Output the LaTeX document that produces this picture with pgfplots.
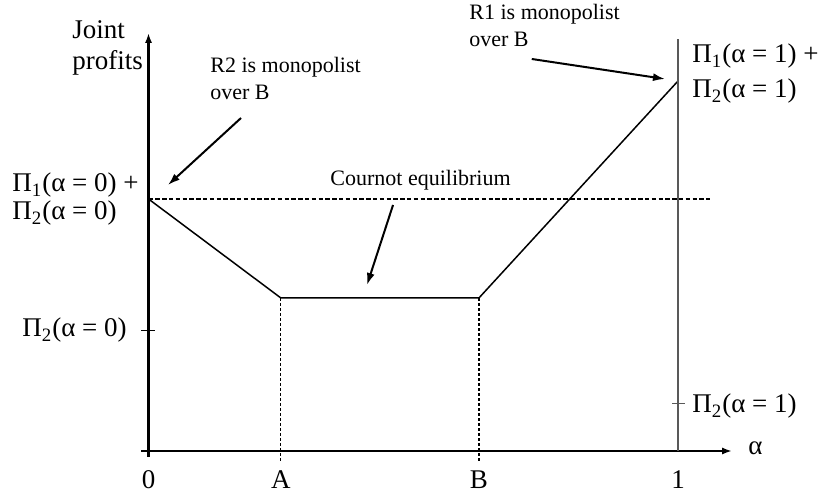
\documentclass[border=0pt]{standalone}
\usepackage{fontspec}
\setmainfont{Liberation Serif}
\usepackage{pgfplots}
\pgfplotsset{compat=1.18}
\usetikzlibrary{arrows.meta}

\tikzset{
  big/.style={font=\fontsize{13.5}{16}\selectfont, inner sep=0pt, anchor=base west},
  small/.style={font=\fontsize{11}{13}\selectfont, inner sep=0pt, anchor=base west},
  note/.style={-{Latex[length=6pt,width=4pt]}, line width=1pt, black},
}

\begin{document}
\begin{tikzpicture}
\begin{axis}[
    scale only axis,
    width=295.5pt, height=212pt,
    xmin=-0.01416, xmax=1.1020,
    ymin=-0.06, ymax=4.18,
    axis lines=middle,
    axis line style={line width=1.3pt, -{Latex[length=5pt,width=3.6pt]}},
    clip=false,
    xtick={0,0.25,0.624,1},
    xticklabels={0,A,B,1},
    xtick style={draw=none},
    ytick=\empty,
    hide obscured x ticks=false,
    xticklabel style={anchor=base, yshift=-16.5pt, font=\fontsize{13.5}{16}\selectfont},
    /pgf/number format/assume math mode=true,
]
% frame of the whole picture
\path (axis cs:-0.2805,-0.44) rectangle (axis cs:1.2776,4.51);

% joint profits
\addplot[black, line width=0.75pt] coordinates {(0,2.52) (0.25,1.53) (0.624,1.53) (1,3.70)};
% Cournot level
\addplot[black, line width=0.6pt, dash pattern=on 2.2pt off 1.2pt] coordinates {(0,2.52) (1.0604,2.52)};
% A and B
\addplot[black, line width=0.6pt, dash pattern=on 1.6pt off 0.9pt] coordinates {(0.25,1.53) (0.25,-0.11)};
\addplot[black, line width=0.6pt, dash pattern=on 1.6pt off 0.9pt] coordinates {(0.624,1.53) (0.624,-0.11)};
% tick for Pi_2(alpha = 0)
\addplot[black, line width=0.5pt] coordinates {(-0.0142,1.2) (0.0123,1.2)};
% alpha = 1
\addplot[black!65, line width=0.8pt] coordinates {(1,0) (1,4.12)};
\addplot[black!65, line width=0.5pt] coordinates {(0.9887,0.47) (1.0132,0.47)};

\node[big] at (axis cs:1.1322,-0.04) {α};
\node[big] at (axis cs:-0.1445,4.12) {Joint};
\node[big] at (axis cs:-0.1445,3.81) {profits};
\node[big] at (axis cs:-0.2578,2.59) {Π\textsubscript{1}(α = 0) +};
\node[big] at (axis cs:-0.2578,2.31) {Π\textsubscript{2}(α = 0)};
\node[big, anchor=base east] at (axis cs:-0.0406,1.14) {Π\textsubscript{2}(α = 0)};
\node[big] at (axis cs:1.0264,3.88) {Π\textsubscript{1}(α = 1) +};
\node[big] at (axis cs:1.0264,3.53) {Π\textsubscript{2}(α = 1)};
\node[big] at (axis cs:1.0264,0.38) {Π\textsubscript{2}(α = 1)};

\node[small] at (axis cs:0.1161,3.78) {R2 is monopolist};
\node[small] at (axis cs:0.1161,3.51) {over B};
\node[small] at (axis cs:0.6053,4.31) {R1 is monopolist};
\node[small] at (axis cs:0.6053,4.04) {over B};
\node[small] at (axis cs:0.3428,2.65) {Cournot equilibrium};

\draw[note] (axis cs:0.1747,3.33) -- (axis cs:0.0368,2.66);
\draw[note] (axis cs:0.4618,2.46) -- (axis cs:0.4126,1.66);
\draw[note] (axis cs:0.7238,3.92) -- (axis cs:0.9754,3.72);
\end{axis}
\end{tikzpicture}
\end{document}
